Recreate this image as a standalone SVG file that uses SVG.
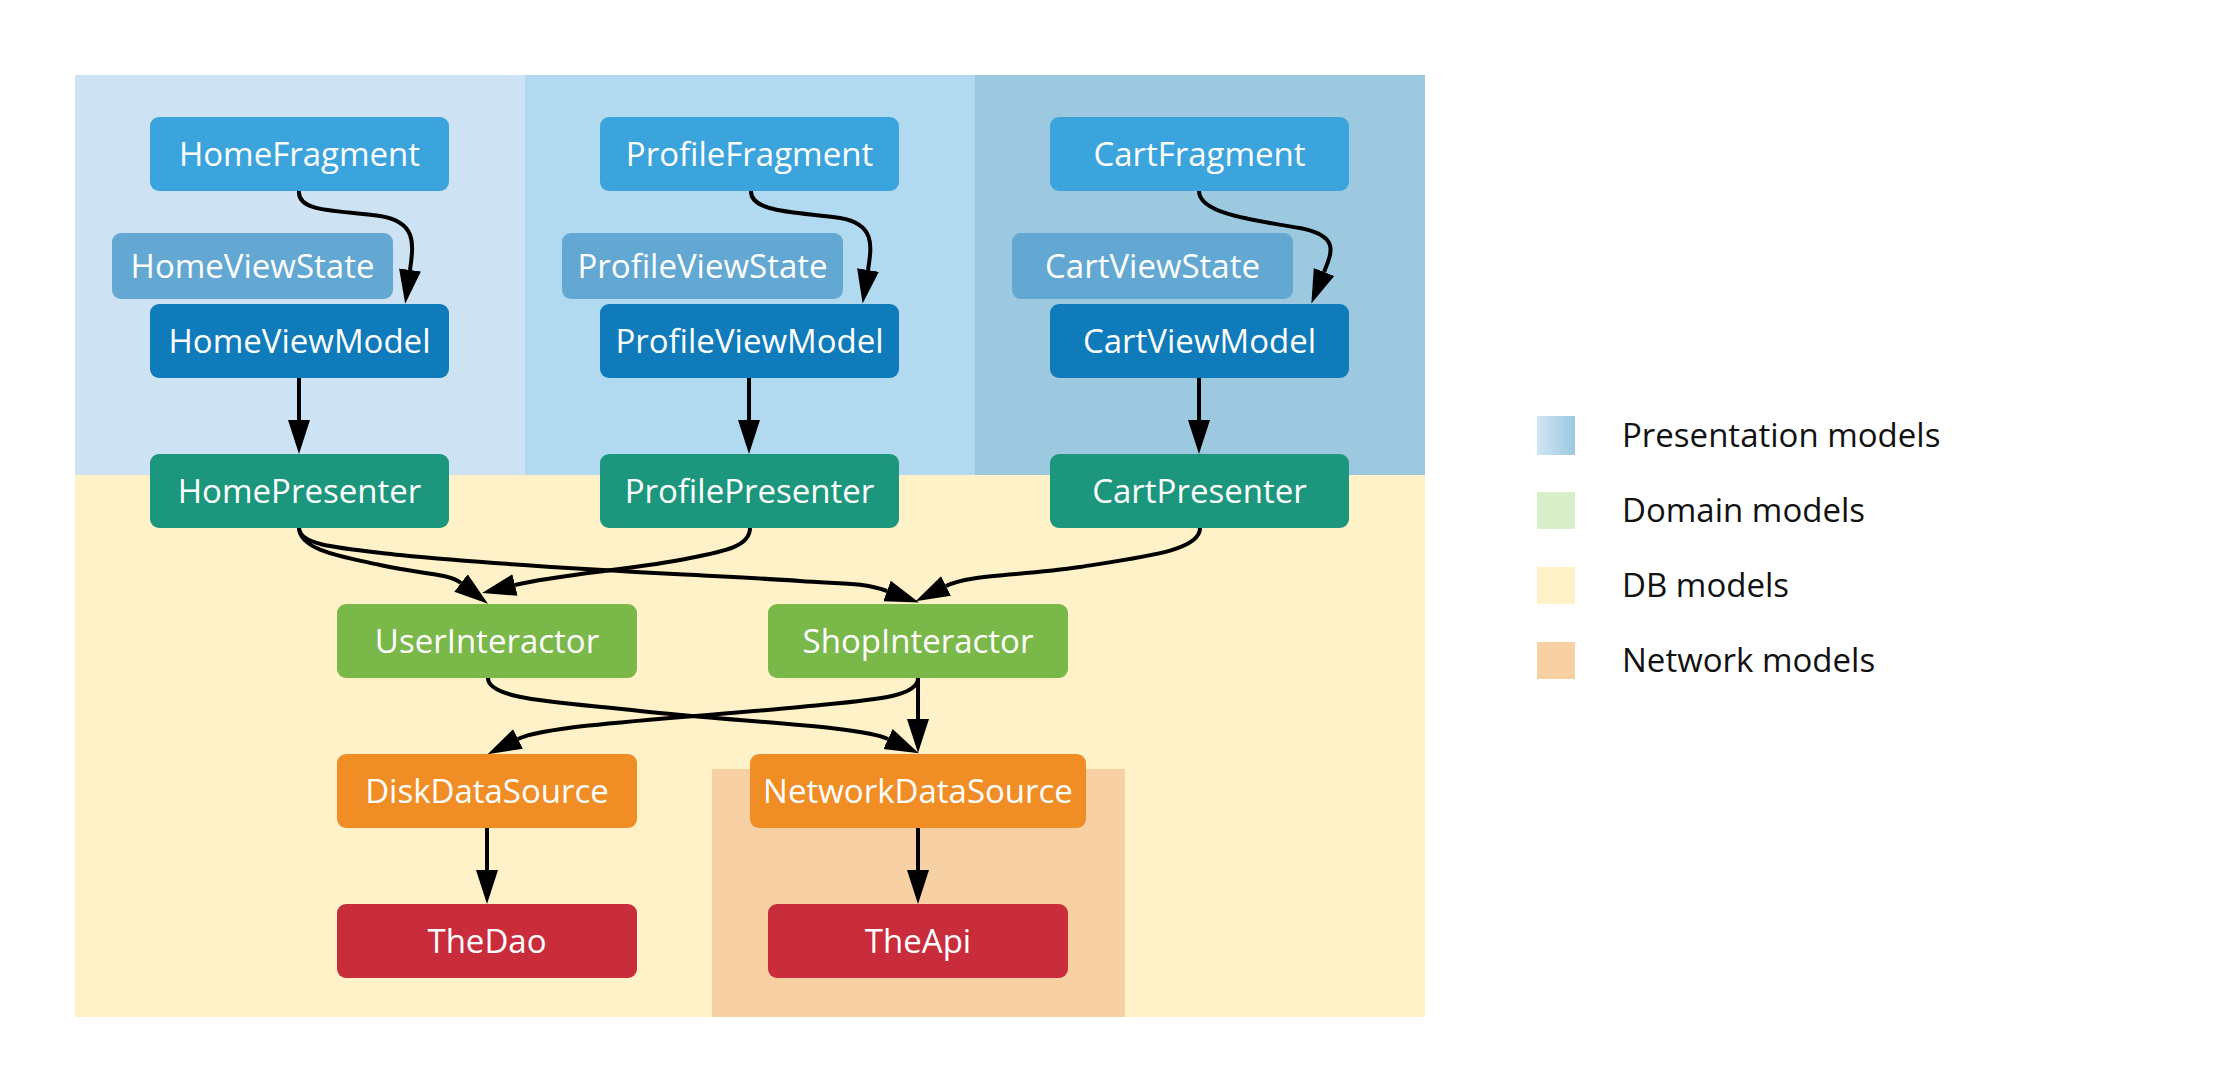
<svg xmlns="http://www.w3.org/2000/svg" width="2213" height="1091" viewBox="0 0 2213 1091">
<defs>
<linearGradient id="presGrad" x1="0" y1="0" x2="1" y2="0">
<stop offset="0" stop-color="#d2e6f4"/>
<stop offset="1" stop-color="#9bc8e0"/>
</linearGradient>
<marker id="arrow" markerUnits="userSpaceOnUse" markerWidth="40" markerHeight="26" viewBox="0 -13 40 26" refX="0" refY="0" orient="auto">
<path d="M0,-11 L34,0 L0,11 z" fill="#000"/>
</marker>
<style>
.lbl{font-family:"Open Sans","DejaVu Sans",sans-serif;font-size:33px;fill:#fff;text-anchor:middle}
.leg{font-family:"Open Sans","DejaVu Sans",sans-serif;font-size:33px;fill:#111}
.edge{fill:none;stroke:#000;stroke-width:4;marker-end:url(#arrow)}
.frag{fill:#3ca4dc}
.vs{fill:#62a8d2}
.vm{fill:#0f7bba}
.pres{fill:#1c977d}
.inter{fill:#7bb84a}
.ds{fill:#f08d25}
.api{fill:#c92c3b}
</style>
</defs>
<rect width="2213" height="1091" fill="#fff"/>
<g id="areas">
<rect x="75" y="475" width="1350" height="542" fill="#fff1c8"/>
<rect x="712" y="769" width="413" height="248" fill="#f7d0a4"/>
<rect x="75" y="75" width="450" height="400" fill="#cde2f2"/>
<rect x="525" y="75" width="450" height="400" fill="#b1daf0"/>
<rect x="975" y="75" width="450" height="400" fill="#9dc9e0"/>
</g>
<g id="legend">
<rect x="1537" y="416" width="38" height="39" fill="url(#presGrad)"/>
<text class="leg" x="1622" y="447">Presentation models</text>
<rect x="1537" y="492" width="38" height="37" fill="#d9efc9"/>
<text class="leg" x="1622" y="522">Domain models</text>
<rect x="1537" y="567" width="38" height="37" fill="#fff1c8"/>
<text class="leg" x="1622" y="597">DB models</text>
<rect x="1537" y="642" width="38" height="37" fill="#f7d0a4"/>
<text class="leg" x="1622" y="672">Network models</text>
</g>
<g id="HomeFragment"><rect class="frag" x="150" y="117" width="299" height="74" rx="9"/><text class="lbl" x="299.5" y="166">HomeFragment</text></g>
<g id="HomeViewState"><rect class="vs" x="112" y="233" width="281" height="66" rx="9"/><text class="lbl" x="252.5" y="278">HomeViewState</text></g>
<g id="HomeViewModel"><rect class="vm" x="150" y="304" width="299" height="74" rx="9"/><text class="lbl" x="299.5" y="353">HomeViewModel</text></g>
<g id="HomePresenter"><rect class="pres" x="150" y="454" width="299" height="74" rx="9"/><text class="lbl" x="299.5" y="503">HomePresenter</text></g>
<g id="ProfileFragment"><rect class="frag" x="600" y="117" width="299" height="74" rx="9"/><text class="lbl" x="749.5" y="166">ProfileFragment</text></g>
<g id="ProfileViewState"><rect class="vs" x="562" y="233" width="281" height="66" rx="9"/><text class="lbl" x="702.5" y="278">ProfileViewState</text></g>
<g id="ProfileViewModel"><rect class="vm" x="600" y="304" width="299" height="74" rx="9"/><text class="lbl" x="749.5" y="353">ProfileViewModel</text></g>
<g id="ProfilePresenter"><rect class="pres" x="600" y="454" width="299" height="74" rx="9"/><text class="lbl" x="749.5" y="503">ProfilePresenter</text></g>
<g id="CartFragment"><rect class="frag" x="1050" y="117" width="299" height="74" rx="9"/><text class="lbl" x="1199.5" y="166">CartFragment</text></g>
<g id="CartViewState"><rect class="vs" x="1012" y="233" width="281" height="66" rx="9"/><text class="lbl" x="1152.5" y="278">CartViewState</text></g>
<g id="CartViewModel"><rect class="vm" x="1050" y="304" width="299" height="74" rx="9"/><text class="lbl" x="1199.5" y="353">CartViewModel</text></g>
<g id="CartPresenter"><rect class="pres" x="1050" y="454" width="299" height="74" rx="9"/><text class="lbl" x="1199.5" y="503">CartPresenter</text></g>
<g id="UserInteractor"><rect class="inter" x="337" y="604" width="300" height="74" rx="9"/><text class="lbl" x="487" y="653">UserInteractor</text></g>
<g id="ShopInteractor"><rect class="inter" x="768" y="604" width="300" height="74" rx="9"/><text class="lbl" x="918" y="653">ShopInteractor</text></g>
<g id="DiskDataSource"><rect class="ds" x="337" y="754" width="300" height="74" rx="9"/><text class="lbl" x="487" y="803">DiskDataSource</text></g>
<g id="NetworkDataSource"><rect class="ds" x="750" y="754" width="336" height="74" rx="9"/><text class="lbl" x="918" y="803">NetworkDataSource</text></g>
<g id="TheDao"><rect class="api" x="337" y="904" width="300" height="74" rx="9"/><text class="lbl" x="487" y="953">TheDao</text></g>
<g id="TheApi"><rect class="api" x="768" y="904" width="300" height="74" rx="9"/><text class="lbl" x="918" y="953">TheApi</text></g>
<g id="connectors">
<path class="edge" d="M299,191 C297,213 340,210 380,216 C416,222 414,242 410,270"/>
<path class="edge" d="M751,191 C750,213 800,212 840,218 C875,224 872,245 868,270"/>
<path class="edge" d="M1199,191 C1199,213 1250,220 1300,228 C1340,236 1332,252 1324,272"/>
<path class="edge" d="M299,378 L299,420"/>
<path class="edge" d="M749,378 L749,420"/>
<path class="edge" d="M1199,378 L1199,420"/>
<path class="edge" d="M299,528 C300,550 340,556 380,565 C420,574 448,573 461,583"/>
<path class="edge" d="M299,528 C300,546 340,548 400,555 C550,570 700,574 800,581 C840,584 862,582 887,591"/>
<path class="edge" d="M750,528 C750,548 720,552 680,560 C620,571 560,574 515,585"/>
<path class="edge" d="M1200,528 C1200,550 1150,556 1080,567 C1020,576 970,574 946,586"/>
<path class="edge" d="M488,678 C488,700 560,702 640,711 C740,722 860,726 888,739"/>
<path class="edge" d="M918,678 C918,698 870,700 800,707 C700,717 548,724 518,739"/>
<path class="edge" d="M918,678 L918,719"/>
<path class="edge" d="M487,828 L487,870"/>
<path class="edge" d="M918,828 L918,870"/>
</g>
</svg>
